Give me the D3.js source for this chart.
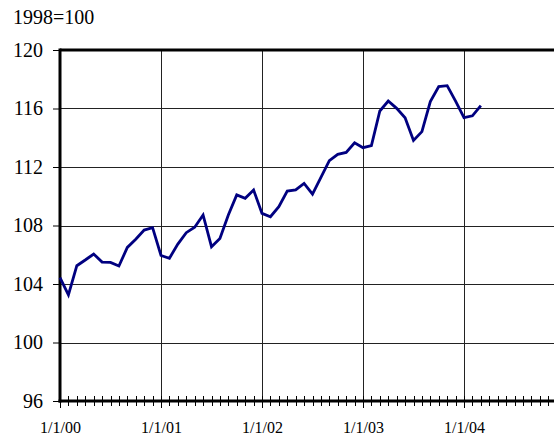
<!DOCTYPE html>
<html><head><meta charset="utf-8">
<script src="https://cdn.jsdelivr.net/npm/d3@7"></script>
<style>body{margin:0;background:#fff}svg{display:block}
svg text{font-family:"Liberation Serif","Times New Roman",Tinos,"DejaVu Serif",serif !important;}
</style>
</head><body>
<script>
const startYear = 2000;
const values = [
  104.43, 103.25, 105.25, 105.64, 106.05, 105.5, 105.48, 105.23, 106.5, 107.06, 107.69, 107.85,
  105.95, 105.76, 106.73, 107.51, 107.88, 108.72, 106.55, 107.12, 108.72, 110.09, 109.86, 110.43,
  108.83, 108.6, 109.29, 110.35, 110.43, 110.88, 110.15, 111.29, 112.43, 112.87, 113.0, 113.66,
  113.32, 113.46, 115.83, 116.51, 116.01, 115.37, 113.82, 114.42, 116.47, 117.5, 117.56, 116.5,
  115.37, 115.5, 116.2
];
const yTicks = [96, 100, 104, 108, 112, 116, 120];
const xTickLabels = ["1/1/00", "1/1/01", "1/1/02", "1/1/03", "1/1/04"];
const unitLabel = "1998=100";

const W = 554, H = 436;
const svg = d3.select("body").append("svg").attr("width", W).attr("height", H);
const mLeft = 60, mTop = 50, mBottom = 401;
const x = d3.scaleLinear().domain([0, 60]).range([mLeft, mLeft + 505]);
const y = d3.scaleLinear().domain([96, 120]).range([mBottom, mTop]);

// gridlines horizontal
svg.append("g").selectAll("line").data(yTicks.filter(v => v > 96 && v < 120)).join("line")
  .attr("x1", mLeft).attr("x2", W).attr("y1", d => Math.round(y(d)) + 0.5).attr("y2", d => Math.round(y(d)) + 0.5)
  .attr("stroke", "#222").attr("stroke-width", 1);
// gridlines vertical (years)
svg.append("g").selectAll("line").data(d3.range(1, 5)).join("line")
  .attr("x1", d => Math.round(x(d * 12)) + 0.5).attr("x2", d => Math.round(x(d * 12)) + 0.5)
  .attr("y1", mTop).attr("y2", mBottom)
  .attr("stroke", "#222").attr("stroke-width", 1);

// top border
svg.append("line").attr("x1", mLeft).attr("x2", W).attr("y1", mTop).attr("y2", mTop)
  .attr("stroke", "#000").attr("stroke-width", 3);

// y axis
const yAxis = d3.axisLeft(y).tickValues(yTicks).tickSize(7).tickPadding(10).tickFormat(d3.format("d"));
const gy = svg.append("g").attr("transform", `translate(${mLeft},0)`).call(yAxis);
gy.attr("font-family", null).attr("font-size", null);
gy.select(".domain").remove();
gy.selectAll(".tick line").attr("stroke", "#000").attr("stroke-width", 1);
gy.selectAll(".tick text").attr("font-size", 20).attr("fill", "#000");
svg.append("line").attr("x1", mLeft).attr("x2", mLeft).attr("y1", mTop - 1.5).attr("y2", mBottom + 1.5)
  .attr("stroke", "#000").attr("stroke-width", 3);

// x axis minor ticks (months)
svg.append("g").selectAll("line").data(d3.range(0, 61)).join("line")
  .attr("x1", d => Math.round(x(d)) + 0.5).attr("x2", d => Math.round(x(d)) + 0.5)
  .attr("y1", mBottom - 5).attr("y2", d => d % 12 === 0 ? mBottom + 7 : mBottom + 5)
  .attr("stroke", "#000").attr("stroke-width", 1);
svg.append("line").attr("x1", mLeft - 1.5).attr("x2", W).attr("y1", mBottom).attr("y2", mBottom)
  .attr("stroke", "#000").attr("stroke-width", 3);

// x labels
const xAxis = d3.axisBottom(x).tickValues(xTickLabels.map((_, i) => i * 12))
  .tickSize(0).tickPadding(0).tickFormat((d, i) => xTickLabels[i]);
const gx = svg.append("g").attr("transform", `translate(0,${mBottom})`).call(xAxis);
gx.attr("font-family", null).attr("font-size", null);
gx.select(".domain").remove();
gx.selectAll(".tick text").attr("font-size", 16).attr("fill", "#000")
  .attr("dy", null).attr("y", 32);

// unit label
svg.append("text").attr("x", 13).attr("y", 24).attr("font-size", 20)
  .attr("fill", "#000").text(unitLabel);

// line
const line = d3.line().x((d, i) => x(i)).y(d => y(d));
svg.append("path").datum(values).attr("d", line).attr("fill", "none")
  .attr("stroke", "#000080").attr("stroke-width", 2.8).attr("stroke-linejoin", "miter");
</script>
</body></html>
